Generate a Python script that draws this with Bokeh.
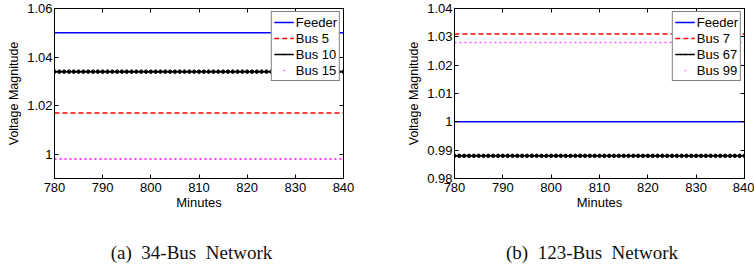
from bokeh.plotting import figure
from bokeh.models import (Range1d, FixedTicker, LinearAxis, Legend, LegendItem,
                          Div, ColumnDataSource, CustomJSTickFormatter)
from bokeh.layouts import row, column
from bokeh.embed import file_html
from bokeh.resources import INLINE

# ---------------- data ----------------
minutes = list(range(780, 841))
x_ticks = [780, 790, 800, 810, 820, 830, 840]

a_labels = ["Feeder", "Bus 5", "Bus 10", "Bus 15"]
a_values = [1.050, 1.017, 1.034, 0.998]
a_yticks = [1.00, 1.02, 1.04, 1.06]
a_ytick_labels = ["1", "1.02", "1.04", "1.06"]
a_ylim = (0.99, 1.06)
a_caption = "(a)&nbsp;&nbsp;34-Bus&nbsp;&nbsp;Network"

b_labels = ["Feeder", "Bus 7", "Bus 67", "Bus 99"]
b_values = [1.000, 1.031, 0.988, 1.028]
b_yticks = [0.98, 0.99, 1.00, 1.01, 1.02, 1.03, 1.04]
b_ytick_labels = ["0.98", "0.99", "1", "1.01", "1.02", "1.03", "1.04"]
b_ylim = (0.98, 1.04)
b_caption = "(b)&nbsp;&nbsp;123-Bus&nbsp;&nbsp;Network"

SANS = "Liberation Sans"
SERIF = "Liberation Serif"


def make_panel(labels, values, yticks, ytick_labels, ylim,
               width, b_left, b_right, dot_color):
    p = figure(width=width, height=222, output_backend="svg", toolbar_location=None,
               x_range=Range1d(minutes[0], minutes[-1]), y_range=Range1d(*ylim),
               min_border_left=b_left, min_border_right=b_right,
               min_border_top=8, min_border_bottom=44)
    p.grid.visible = False
    p.outline_line_color = "black"
    p.outline_line_width = 1
    p.background_fill_color = "white"
    p.border_fill_color = "white"

    fmt = CustomJSTickFormatter(args=dict(tvals=yticks, tlabs=ytick_labels), code="""
        let best = 0, d = Infinity;
        for (let i = 0; i < tvals.length; i++) {
            const e = Math.abs(tvals[i] - tick);
            if (e < d) { d = e; best = i; }
        }
        return tlabs[best];
    """)

    xa = p.xaxis[0]
    ya = p.yaxis[0]
    xa.ticker = FixedTicker(ticks=x_ticks)
    ya.ticker = FixedTicker(ticks=yticks)
    ya.formatter = fmt
    for ax in (xa, ya):
        ax.major_tick_in = 4
        ax.major_tick_out = 0
        ax.minor_tick_line_color = None
        ax.axis_line_color = "black"
        ax.major_tick_line_color = "black"
        ax.major_label_text_font = SANS
        ax.major_label_text_font_size = "13px"
        ax.major_label_text_color = "black"
        ax.axis_label_text_font = SANS
        ax.axis_label_text_font_style = "normal"
        ax.axis_label_text_color = "black"
    xa.axis_label = "Minutes"
    xa.axis_label_text_font_size = "13px"
    xa.major_label_standoff = 4
    xa.axis_label_standoff = 0
    ya.axis_label = "Voltage Magnitude"
    ya.axis_label_text_font_size = "12.5px"
    ya.major_label_standoff = 2
    ya.axis_label_standoff = 3

    # tick marks on top and right (no labels drawn)
    top = LinearAxis(ticker=FixedTicker(ticks=x_ticks))
    right = LinearAxis(ticker=FixedTicker(ticks=yticks))
    for ax in (top, right):
        ax.major_tick_in = 4
        ax.major_tick_out = 0
        ax.minor_tick_line_color = None
        ax.axis_line_color = None
        ax.major_label_text_color = None
        ax.major_label_text_font_size = "2px"
        ax.major_label_standoff = 0
    p.add_layout(top, "above")
    p.add_layout(right, "right")

    colors = ["#0000ff", "#ff0000", "#000000", dot_color]
    dashes = ["solid", "5 3", "solid", "2 3"]
    items = []
    for i, (lab, val) in enumerate(zip(labels, values)):
        src = ColumnDataSource(dict(x=minutes, y=[val] * len(minutes)))
        r = p.line("x", "y", source=src, line_color=colors[i], line_width=1.5,
                   line_dash=dashes[i])
        if i == 2:
            p.scatter("x", "y", source=src, size=3.5, color="black")
            # small legend marker (hidden in the plot area)
            lm = p.scatter("x", "y", source=src, marker="dot", line_width=3,
                           color="black", visible=False)
            items.append(LegendItem(label=lab, renderers=[r, lm]))
        elif i == 3:
            # legend swatch: a single dot, as in the reference (hidden in the plot)
            d = p.scatter("x", "y", source=src, marker="dot", line_width=1.2,
                          color=dot_color, visible=False)
            items.append(LegendItem(label=lab, renderers=[d]))
        else:
            items.append(LegendItem(label=lab, renderers=[r]))

    leg = Legend(items=items, location="top_right")
    leg.label_text_font = SANS
    leg.label_text_font_size = "13px"
    leg.label_text_color = "black"
    leg.label_height = 16
    leg.glyph_height = 16
    leg.glyph_width = 20
    leg.label_standoff = 2
    leg.spacing = 0
    leg.padding = 2
    leg.margin = 3
    leg.border_line_color = "black"
    leg.border_line_width = 1
    leg.background_fill_alpha = 1
    p.add_layout(leg)
    return p


def make_caption(text, pad_left):
    html = (f'<div style="display:block;width:377px;box-sizing:border-box;'
            f'font-family:\'{SERIF}\';font-size:19px;color:#111;'
            f'text-align:center;padding-top:17px;padding-left:{pad_left}px;'
            f'white-space:nowrap">{text}</div>')
    return Div(text=html, width=377, height=47, margin=0)


pa = make_panel(a_labels, a_values, a_yticks, a_ytick_labels, a_ylim,
                377, 54, 34, "#ff00ff")
pb = make_panel(b_labels, b_values, b_yticks, b_ytick_labels, b_ylim,
                377, 77, 10, "#ff55ff")
ca = make_caption(a_caption, 6)
cb = make_caption(b_caption, 53)

layout = column(row(pa, pb, spacing=0), row(ca, cb, spacing=0), spacing=0)
open("out.html", "w").write(file_html(layout, INLINE))
